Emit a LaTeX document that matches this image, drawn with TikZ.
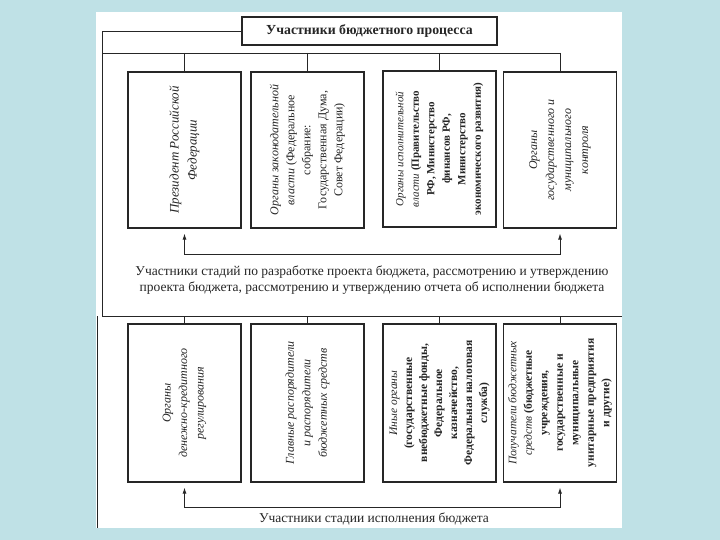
\documentclass[tikz,border=0pt]{standalone}
\usepackage{fontspec}
\setmainfont{Liberation Serif}
\usetikzlibrary{arrows.meta}

\definecolor{pagebg}{HTML}{BFE1E6}
\definecolor{ink}{HTML}{262626}

\tikzset{
  part/.style={draw=ink, line width=1.1pt, minimum width=113pt, minimum height=156pt, inner sep=0pt},
  vtext/.style={rotate=90, align=center, text=ink, font=\fontsize{12}{16}\selectfont},
  wire/.style={draw=ink, line width=0.9pt},
  bothtips/.style={wire, {Latex[length=6pt,width=4pt]}-{Latex[length=6pt,width=4pt]}, shorten <=5pt, shorten >=5pt}
}

\begin{document}
\begin{tikzpicture}[x=1pt, y=-1pt]
  % Background and page
  \fill[pagebg] (0,0) rectangle (720,540);
  \fill[white] (96,12) rectangle (622,528);
  \useasboundingbox (0,0) rectangle (720,540);

  % Title
  \node[part, minimum width=255pt, minimum height=28pt, font=\bfseries\fontsize{13.8}{15}\selectfont, text=ink] (title) at (369.5,31) {Участники бюджетного процесса};

  % Upper row
  \node[part] (pres) at (184.5,150) {};
  \node[part] (legis) at (307.5,150) {};
  \node[part] (exec) at (439.5,149) {};
  \node[part] (ctrl) at (560,150) {};

  \node[vtext, font=\fontsize{13}{18}\selectfont] at (pres) {\textit{Президент Российской}\\\textit{Федерации}};
  \node[vtext] at (legis) {\textit{Органы законодательной}\\\textit{власти} (Федеральное\\собрание:\\Государственная Дума,\\Совет Федерации)};
  \node[vtext, font=\fontsize{11}{15.5}\selectfont] at (exec) {\textit{Органы исполнительной}\\\textit{власти} \textbf{(Правительство}\\\textbf{РФ, Министерство}\\\textbf{финансов РФ,}\\\textbf{Министерство}\\\textbf{экономического развития)}};
  \node[vtext, font=\fontsize{12}{17}\selectfont] at (ctrl) {\textit{Органы}\\\textit{государственного и}\\\textit{муниципального}\\\textit{контроля}};

  % Frame lines
  \coordinate (topleft) at (102,31);
  \coordinate (busup) at (102,53);
  \coordinate (corner) at (102,316);
  \coordinate (rightend) at (622,316);
  \draw[wire] (title.west) -- (topleft) -- (corner) -- (rightend);
  \draw[wire] (busup) -- (busup -| ctrl.north);
  \foreach \n in {pres,legis,exec,ctrl}
    \draw[wire] (busup -| \n.north) -- (\n.north);

  % Middle caption
  \coordinate (barup) at (0,254);
  \draw[bothtips] (pres.south) -- (pres.south |- barup) -- (ctrl.south |- barup) -- (ctrl.south);
  \node[align=center, text=ink, font=\fontsize{13.5}{16}\selectfont] (midcap) at (372,280)
    {Участники стадий по разработке проекта бюджета, рассмотрению и утверждению\\проекта бюджета, рассмотрению и утверждению отчета об исполнении бюджета};

  % Lower row
  \node[part, minimum height=158pt] (bank) at (184.5,403) {};
  \node[part, minimum height=158pt] (mgrs) at (307.5,403) {};
  \node[part, minimum height=158pt] (other) at (439.5,403) {};
  \node[part, minimum height=158pt] (recv) at (560,403) {};

  \node[vtext, font=\fontsize{12}{16.5}\selectfont] at (bank) {\textit{Органы}\\\textit{денежно-кредитного}\\\textit{регулирования}};
  \node[vtext, font=\fontsize{12}{16.5}\selectfont] at (mgrs) {\textit{Главные распорядители}\\\textit{и распорядители}\\\textit{бюджетных средств}};
  \node[vtext, font=\fontsize{11.5}{15}\selectfont] at (other) {\textit{Иные органы}\\\textbf{(государственные}\\\textbf{внебюджетные фонды,}\\\textbf{Федеральное}\\\textbf{казначейство,}\\\textbf{Федеральная налоговая}\\\textbf{служба)}};
  \node[vtext, font=\fontsize{11.5}{15.5}\selectfont] at (recv) {\textit{Получатели бюджетных}\\\textit{средств} \textbf{(бюджетные}\\\textbf{учреждения,}\\\textbf{государственные и}\\\textbf{муниципальные}\\\textbf{унитарные предприятия}\\\textbf{и другие)}};

  \foreach \n in {bank,mgrs,other,recv}
    \draw[wire] (corner -| \n.north) -- (\n.north);
  \draw[wire] (97,316) -- (97,528);

  % Bottom caption
  \coordinate (bardown) at (0,507);
  \draw[bothtips] (bank.south) -- (bank.south |- bardown) -- (recv.south |- bardown) -- (recv.south);
  \node[text=ink, font=\fontsize{13.5}{16}\selectfont] (lowcap) at (374,519) {Участники стадии исполнения бюджета};
\end{tikzpicture}
\end{document}
